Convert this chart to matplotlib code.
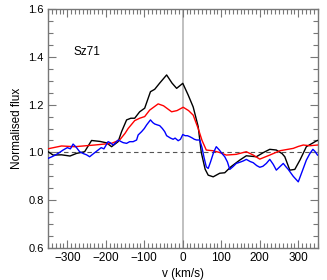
import matplotlib
matplotlib.use("Agg")
import matplotlib.pyplot as plt
from matplotlib.ticker import MultipleLocator

plt.rcParams['font.family'] = ['Liberation Sans', 'DejaVu Sans']

black_v = [-350, -337, -315, -293, -276, -255, -237, -215, -198, -185, -168, -159, -146, -135, -125,
           -112, -99, -84, -73, -60, -42, -28, -16, 0, 14, 27, 40, 48, 58, 66, 79, 96, 109, 125,
           148, 165, 191, 210, 226, 243, 258, 265, 278, 291, 305, 321, 347, 350]
black_f = [1.003, 0.989, 0.990, 0.985, 0.996, 1.003, 1.050, 1.046, 1.040, 1.024, 1.045, 1.087, 1.136,
           1.143, 1.143, 1.170, 1.185, 1.254, 1.264, 1.290, 1.324, 1.290, 1.268, 1.289, 1.240, 1.190,
           1.108, 1.000, 0.930, 0.905, 0.898, 0.913, 0.915, 0.940, 0.968, 0.986, 0.982, 1.000, 1.013,
           1.010, 0.995, 0.982, 0.926, 0.929, 0.970, 1.024, 1.048, 1.050]

red_v = [-350, -345, -315, -281, -229, -185, -164, -150, -142, -125, -112, -99, -86, -75, -64, -50,
         -29, -15, 1, 15, 27, 40, 50, 61, 79, 95, 113, 139, 165, 183, 200, 226, 252, 287, 300, 313,
         330, 350]
red_f = [1.015, 1.017, 1.027, 1.024, 1.031, 1.038, 1.052, 1.080, 1.100, 1.133, 1.143, 1.150, 1.177,
         1.190, 1.203, 1.195, 1.170, 1.175, 1.189, 1.175, 1.156, 1.100, 1.050, 1.010, 1.007, 1.000,
         0.989, 0.992, 1.003, 0.989, 0.972, 0.989, 1.007, 1.017, 1.025, 1.031, 1.028, 1.031]

blue_v = [-350, -340, -330, -320, -311, -300, -292, -285, -276, -268, -258, -250, -242, -232, -220,
          -212, -205, -194, -188, -181, -175, -168, -160, -155, -146, -138, -129, -120, -116, -107,
          -100, -94, -84, -78, -73, -66, -60, -53, -47, -42, -38, -32, -25, -20, -12, -6, 0, 6, 12,
          18, 25, 30, 36, 44, 50, 55, 61, 66, 72, 80, 87, 95, 102, 109, 116, 122, 130, 139, 150,
          158, 165, 175, 183, 192, 200, 208, 217, 226, 235, 243, 252, 261, 268, 274, 287, 300, 310,
          321, 330, 338, 343, 350]
blue_f = [0.975, 0.982, 0.990, 1.000, 1.010, 1.020, 1.015, 1.035, 1.020, 1.003, 0.995, 0.990, 0.982,
          0.995, 1.010, 1.020, 1.015, 1.045, 1.040, 1.031, 1.040, 1.052, 1.045, 1.041, 1.038, 1.045,
          1.045, 1.052, 1.073, 1.087, 1.100, 1.115, 1.136, 1.125, 1.119, 1.115, 1.112, 1.100, 1.087,
          1.070, 1.066, 1.060, 1.055, 1.060, 1.049, 1.055, 1.075, 1.070, 1.070, 1.066, 1.060, 1.055,
          1.052, 1.052, 1.020, 0.980, 0.940, 0.933, 0.960, 1.000, 1.024, 1.010, 0.995, 0.982, 0.960,
          0.929, 0.940, 0.954, 0.960, 0.965, 0.971, 0.962, 0.957, 0.945, 0.938, 0.942, 0.954, 0.971,
          0.950, 0.926, 0.940, 0.954, 0.940, 0.929, 0.900, 0.877, 0.920, 0.968, 0.995, 1.013, 1.005,
          0.989]

label = "Sz71"

fig = plt.figure(figsize=(3.27, 2.80), dpi=100)
ax = fig.add_axes([0.147, 0.114, 0.824, 0.854])

ax.axvline(0, color='#bbbbbb', lw=1.3, zorder=1)
ax.axhline(1.0, color='#555555', lw=0.8, ls=(0, (4, 3)), zorder=1)

ax.plot(black_v, black_f, color='black', lw=1.0, zorder=3)
ax.plot(red_v, red_f, color='red', lw=1.0, zorder=3)
ax.plot(blue_v, blue_f, color='blue', lw=1.0, zorder=3)

ax.text(-283, 1.42, label, fontsize=8.5, va='center', ha='left')

ax.set_xlim(-350, 350)
ax.set_ylim(0.6, 1.6)
ax.xaxis.set_major_locator(MultipleLocator(100))
ax.xaxis.set_minor_locator(MultipleLocator(10))
ax.yaxis.set_major_locator(MultipleLocator(0.2))
ax.yaxis.set_minor_locator(MultipleLocator(0.05))
ax.yaxis.set_major_formatter(matplotlib.ticker.FormatStrFormatter('%.1f'))

spine_c = '#777777'
for s in ax.spines.values():
    s.set_color(spine_c)
    s.set_linewidth(1.0)
ax.tick_params(which='both', direction='in', top=True, right=True, color=spine_c, width=0.8)
ax.tick_params(which='major', length=6, pad=3)
ax.tick_params(which='minor', length=3.5)
ax.tick_params(axis='x', labelsize=8.5)
ax.tick_params(axis='y', labelsize=8)

ax.set_xlabel('v (km/s)', fontsize=8.5, labelpad=2.5)
ax.set_ylabel('Normalised flux', fontsize=8.5, labelpad=4)

fig.savefig('out.png', dpi=100)
